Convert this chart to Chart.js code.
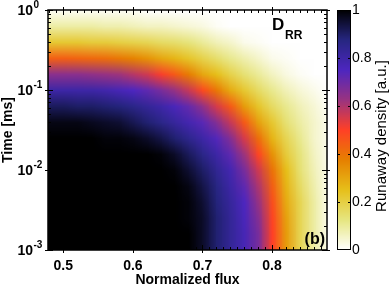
<!DOCTYPE html>
<html>
<head>
<meta charset="utf-8">
<script src="https://cdn.jsdelivr.net/npm/chart.js@4.4.1/dist/chart.umd.min.js"></script>
<style>
  html, body { margin: 0; padding: 0; background: #fff; }
</style>
</head>
<body>
<canvas id="runawayChart" width="390" height="289"></canvas>
<script>
// --- data ---
const flux = [0.48, 0.50, 0.52, 0.54, 0.56, 0.58, 0.60, 0.62, 0.64, 0.66, 0.68,
              0.70, 0.72, 0.74, 0.76, 0.78, 0.80, 0.82, 0.84, 0.86, 0.88];
const time = [0.001, 0.00158, 0.00251, 0.00398, 0.00631, 0.01, 0.0158, 0.0251,
              0.0398, 0.0631, 0.1, 0.158, 0.251, 0.398, 0.631, 1];
// one row per time, rows from 1e-3 ms upward, columns follow flux
const density = [
  [1,1,1,1,1,1,1,1,1,1,1.00,0.96,0.89,0.83,0.77,0.68,0.50,0.32,0.18,0.09,0.02],
  [1,1,1,1,1,1,1,1,1,1,1.00,0.96,0.89,0.83,0.77,0.68,0.50,0.32,0.18,0.09,0.02],
  [1,1,1,1,1,1,1,1,1,1,0.99,0.96,0.89,0.83,0.76,0.66,0.49,0.31,0.18,0.09,0.02],
  [1,1,1,1,1,1,1,1,1,1,0.99,0.95,0.88,0.82,0.75,0.63,0.47,0.29,0.18,0.09,0.02],
  [1,1,1,1,1,1,1,1,1,1,0.98,0.93,0.87,0.80,0.72,0.60,0.44,0.27,0.16,0.08,0.02],
  [1,1,1,1,1,1,1,1,1,0.99,0.95,0.90,0.84,0.78,0.68,0.56,0.40,0.25,0.14,0.07,0.02],
  [1,1,1,1,1,1,1,1,0.99,0.96,0.91,0.86,0.80,0.72,0.62,0.49,0.34,0.21,0.13,0.06,0.02],
  [1,1,1,1,0.99,0.99,0.98,0.96,0.93,0.89,0.85,0.80,0.74,0.66,0.55,0.41,0.27,0.18,0.11,0.05,0.02],
  [0.98,0.98,0.98,0.97,0.96,0.95,0.92,0.89,0.86,0.82,0.78,0.73,0.66,0.57,0.45,0.31,0.22,0.14,0.09,0.05,0.02],
  [0.91,0.91,0.90,0.90,0.89,0.88,0.86,0.83,0.80,0.76,0.71,0.64,0.55,0.45,0.32,0.23,0.16,0.11,0.07,0.04,0.01],
  [0.80,0.80,0.80,0.80,0.79,0.77,0.75,0.72,0.68,0.63,0.57,0.48,0.39,0.29,0.22,0.16,0.11,0.07,0.04,0.02,0],
  [0.65,0.65,0.65,0.64,0.63,0.62,0.59,0.56,0.51,0.45,0.38,0.30,0.25,0.19,0.14,0.10,0.06,0.03,0.01,0,0],
  [0.44,0.44,0.43,0.42,0.41,0.39,0.37,0.34,0.30,0.27,0.23,0.19,0.15,0.11,0.08,0.05,0.02,0.01,0,0,0],
  [0.22,0.22,0.22,0.21,0.21,0.20,0.19,0.18,0.16,0.15,0.13,0.10,0.07,0.05,0.02,0.01,0,0,0,0,0],
  [0.09,0.09,0.09,0.09,0.08,0.08,0.07,0.06,0.06,0.05,0.04,0.03,0.01,0,0,0,0,0,0,0,0],
  [0.01,0.01,0.01,0.01,0.01,0.01,0.01,0,0,0,0,0,0,0,0,0,0,0,0,0,0]
];
const fluxTicks = [0.5, 0.6, 0.7, 0.8];
const timeExponents = [-3, -2, -1, 0];
const densityTicks = [0, 0.2, 0.4, 0.6, 0.8, 1];

const FONT = "'Liberation Sans', Arial, Helvetica, sans-serif";

// reversed CMRmap: white -> yellow -> orange -> red -> purple -> navy -> black
const cmapStops = [
  [0.000, [255, 255, 255]],
  [0.125, [230, 230, 128]],
  [0.250, [230, 191, 26]],
  [0.375, [230, 128, 0]],
  [0.500, [255, 64, 38]],
  [0.625, [153, 51, 128]],
  [0.750, [77, 38, 191]],
  [0.875, [38, 38, 128]],
  [1.000, [0, 0, 0]]
];
function cmap(v) {
  v = Math.min(1, Math.max(0, v));
  for (let i = 1; i < cmapStops.length; i++) {
    const [v1, c1] = cmapStops[i];
    if (v <= v1) {
      const [v0, c0] = cmapStops[i - 1];
      const f = (v - v0) / (v1 - v0);
      return c0.map((c, k) => Math.round(c + f * (c1[k] - c)));
    }
  }
  return [0, 0, 0];
}

// heatmap cells, placed through the x / y scales
const heatmapPlugin = {
  id: 'heatmap',
  beforeDatasetsDraw(chart) {
    const { ctx, chartArea: a, scales: { x, y } } = chart;
    const nx = flux.length, ny = time.length;
    const img = document.createElement('canvas');
    img.width = nx; img.height = ny;
    const ictx = img.getContext('2d');
    const pix = ictx.createImageData(nx, ny);
    for (let j = 0; j < ny; j++) {
      const row = density[ny - 1 - j];
      for (let i = 0; i < nx; i++) {
        const c = cmap(row[i]);
        const k = (j * nx + i) * 4;
        pix.data[k] = c[0]; pix.data[k + 1] = c[1]; pix.data[k + 2] = c[2]; pix.data[k + 3] = 255;
      }
    }
    ictx.putImageData(pix, 0, 0);
    const x0 = x.getPixelForValue(flux[0]), x1 = x.getPixelForValue(flux[nx - 1]);
    const yTop = y.getPixelForValue(time[ny - 1]), yBot = y.getPixelForValue(time[0]);
    const dx = (x1 - x0) / (nx - 1), dy = (yBot - yTop) / (ny - 1);
    ctx.save();
    ctx.beginPath();
    ctx.rect(a.left, a.top, a.right - a.left, a.bottom - a.top);
    ctx.clip();
    ctx.imageSmoothingEnabled = true;
    ctx.drawImage(img, x0 - dx / 2, yTop - dy / 2, dx * nx, dy * ny);
    ctx.restore();
  }
};

// frame, inward ticks, log labels, colorbar and annotations
const framePlugin = {
  id: 'frame',
  afterDraw(chart) {
    const { ctx, chartArea: a, scales: { x, y, cb } } = chart;
    const crisp = p => Math.round(p) + 0.5;
    ctx.save();
    ctx.strokeStyle = '#000';
    ctx.fillStyle = '#000';
    ctx.lineWidth = 1;

    // x ticks, bottom and top
    ctx.beginPath();
    for (let k = 48; k <= 87; k++) {
      const v = k / 100;
      const px = crisp(x.getPixelForValue(v));
      const major = fluxTicks.some(t => Math.abs(t - v) < 1e-6);
      const inn = major ? 5 : 3, out = major ? 3 : 0;
      ctx.moveTo(px, a.bottom + out); ctx.lineTo(px, a.bottom - inn);
      ctx.moveTo(px, a.top - out); ctx.lineTo(px, a.top + inn);
    }
    // y ticks, left and right
    timeExponents.forEach(e => {
      const py = crisp(y.getPixelForValue(Math.pow(10, e)));
      ctx.moveTo(a.left - 3, py); ctx.lineTo(a.left + 5, py);
      ctx.moveTo(a.right + 3, py); ctx.lineTo(a.right - 5, py);
      if (e < 0) {
        for (let m = 2; m <= 9; m++) {
          const pm = crisp(y.getPixelForValue(m * Math.pow(10, e)));
          ctx.moveTo(a.left, pm); ctx.lineTo(a.left + 3, pm);
          ctx.moveTo(a.right, pm); ctx.lineTo(a.right - 3, pm);
        }
      }
    });
    ctx.stroke();

    ctx.lineWidth = 1.5;
    ctx.strokeRect(a.left, a.top, a.right - a.left, a.bottom - a.top);

    // y tick labels 10^n
    ctx.textBaseline = 'alphabetic';
    timeExponents.forEach(e => {
      const py = y.getPixelForValue(Math.pow(10, e));
      ctx.font = 'bold 14px ' + FONT;
      ctx.textAlign = 'right';
      ctx.fillText('10', 33, py + 5);
      ctx.font = 'bold 10px ' + FONT;
      ctx.textAlign = 'left';
      ctx.fillText(e === 0 ? '0' : '-' + Math.abs(e), 33.5, py - 2.5);
    });

    // colorbar
    const cbL = 337, cbW = 14;
    for (let py = Math.floor(cb.top); py < cb.bottom; py++) {
      const c = cmap(cb.getValueForPixel(py + 0.5));
      ctx.fillStyle = 'rgb(' + c.join(',') + ')';
      ctx.fillRect(cbL, py, cbW, 1);
    }
    ctx.lineWidth = 1;
    ctx.strokeRect(cbL + 0.5, crisp(cb.top), cbW - 1, Math.round(cb.bottom - cb.top) - 1);
    ctx.beginPath();
    densityTicks.forEach(v => {
      if (v <= 0 || v >= 1) return;
      const py = crisp(cb.getPixelForValue(v));
      ctx.moveTo(cbL, py); ctx.lineTo(cbL + 3, py);
      ctx.moveTo(cbL + cbW, py); ctx.lineTo(cbL + cbW - 3, py);
    });
    ctx.stroke();

    // colorbar title, reading upward
    ctx.fillStyle = '#000';
    ctx.save();
    ctx.translate(382, (cb.top + cb.bottom) / 2 + 6);
    ctx.rotate(-Math.PI / 2);
    ctx.font = '15px ' + FONT;
    ctx.textAlign = 'center';
    ctx.textBaseline = 'middle';
    ctx.fillText('Runaway density [a.u.]', 0, 0);
    ctx.restore();

    // D_RR and panel tag
    ctx.textAlign = 'left';
    ctx.textBaseline = 'alphabetic';
    ctx.font = 'bold 17px ' + FONT;
    ctx.fillText('D', 272, 30);
    ctx.font = 'bold 12px ' + FONT;
    ctx.fillText('RR', 285, 39);
    ctx.font = 'bold 16px ' + FONT;
    ctx.textAlign = 'right';
    ctx.fillText('(b)', 325, 244);
    ctx.restore();
  }
};

const tickFont = { family: FONT, size: 14, weight: 'bold' };

new Chart(document.getElementById('runawayChart'), {
  type: 'scatter',
  data: { datasets: [] },
  options: {
    responsive: false,
    animation: false,
    events: [],
    layout: { padding: { top: 10, left: 0, right: 0, bottom: 0 } },
    plugins: { legend: { display: false }, tooltip: { enabled: false } },
    scales: {
      x: {
        type: 'linear', position: 'bottom', min: 0.478, max: 0.879,
        afterFit: s => { s.height = 39; },
        afterBuildTicks: s => { s.ticks = fluxTicks.map(v => ({ value: v })); },
        grid: { display: false, drawTicks: false },
        border: { display: false },
        ticks: { padding: 8, color: '#000', font: tickFont, callback: v => v.toFixed(1) },
        title: { display: true, text: 'Normalized flux', padding: 0, color: '#000', font: tickFont }
      },
      y: {
        type: 'logarithmic', position: 'left', min: 0.001, max: 1,
        afterFit: s => { s.width = 48; },
        grid: { display: false, drawTicks: false },
        border: { display: false },
        ticks: { display: false },
        title: { display: true, text: 'Time [ms]', padding: 0, color: '#000', font: tickFont }
      },
      cb: {
        type: 'linear', axis: 'y', position: 'right', min: 0, max: 1,
        afterFit: s => { s.width = 63; },
        afterBuildTicks: s => { s.ticks = densityTicks.map(v => ({ value: v })); },
        grid: { display: false, drawTicks: true, tickLength: 25 },
        border: { display: false },
        ticks: { padding: 0, color: '#000', font: { family: FONT, size: 14 }, callback: v => String(v) }
      }
    }
  },
  plugins: [heatmapPlugin, framePlugin]
});
</script>
</body>
</html>
